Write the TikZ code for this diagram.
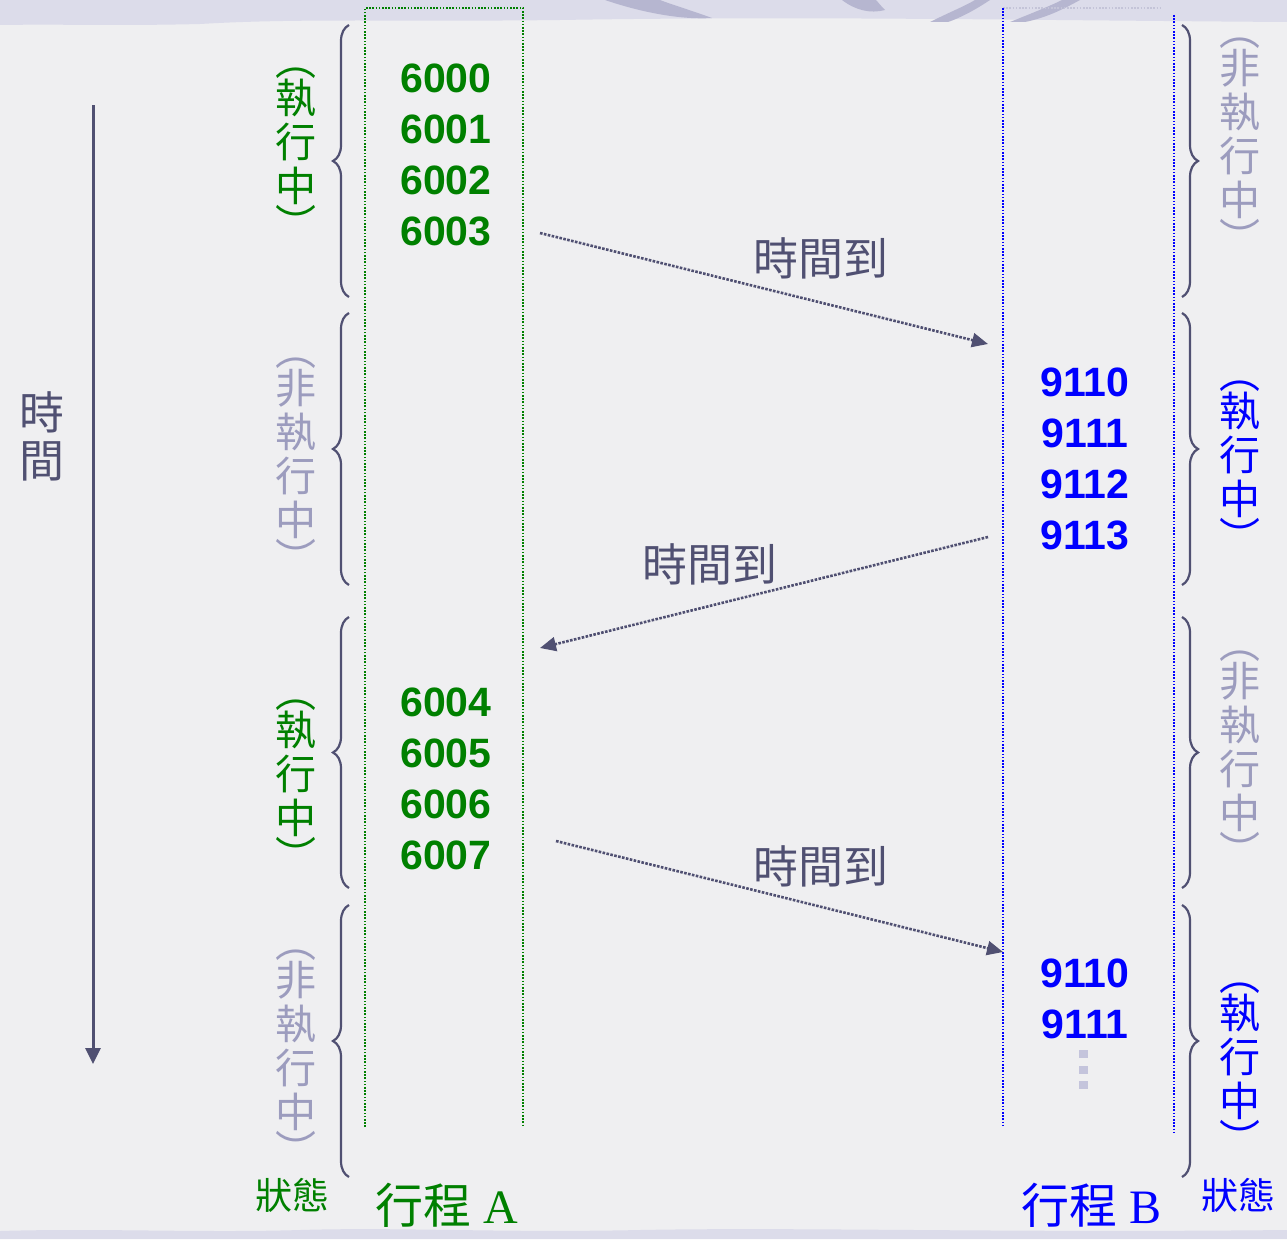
\documentclass[tikz,border=0pt]{standalone}
\usepackage{fontspec}
\setmainfont{Liberation Serif}
\newfontfamily\cjk{Noto Sans CJK TC}
\newfontfamily\numfont{Liberation Sans}
\usetikzlibrary{decorations.pathreplacing,arrows.meta}
\definecolor{bgc}{HTML}{EFEFF1}
\definecolor{band}{HTML}{DCDCEA}
\definecolor{swoosh}{HTML}{B6B6D0}
\definecolor{ink}{HTML}{505072}
\definecolor{pale}{HTML}{9C9CBE}
\definecolor{grn}{HTML}{008000}
\definecolor{blu}{HTML}{0000FF}
\definecolor{dotc}{HTML}{C4C4DC}
\tikzset{
  gnum/.style={font=\numfont\bfseries\fontsize{41}{41}\selectfont, text=grn, inner sep=0pt},
  bnum/.style={font=\numfont\bfseries\fontsize{41}{41}\selectfont, text=blu, inner sep=0pt},
  vlab/.style={font=\cjk\fontsize{41}{44}\selectfont, align=center, inner sep=0pt},
  cjklab/.style={font=\cjk\fontsize{45}{48}\selectfont, text=ink, inner sep=0pt, align=center},
  brc/.style={ink, line width=2.2pt, decorate, decoration={brace, amplitude=16pt}},
  colline/.style={line width=1.6pt, dash pattern=on 1.6pt off 1.6pt},
  tarrow/.style={ink, line width=2.6pt, dash pattern=on 2.6pt off 1.4pt, -{Triangle[length=16pt,width=14pt]}},
}
\newcommand{\vrun}[1]{︵\\[-6pt]#1\\[-6pt]︶}
\begin{document}
\begin{tikzpicture}[x=1pt,y=-1pt]
\useasboundingbox (0,0) rectangle (1287,1239);
% background
\fill[bgc] (0,0) rectangle (1287,1239);
\fill[band] (0,0) -- (1287,0) -- (1287,22) .. controls (1000,20) and (800,16) .. (560,20)
  .. controls (400,22) and (300,18) .. (200,24) .. controls (120,26) and (60,24) .. (0,25) -- cycle;
\fill[swoosh] (605,0) .. controls (640,12) and (680,20) .. (712,18) .. controls (690,10) and (670,4) .. (660,0) -- cycle;
\fill[swoosh] (842,0) .. controls (855,10) and (870,14) .. (885,10) .. controls (880,5) and (878,2) .. (876,0) -- cycle;
\fill[swoosh] (930,22) .. controls (950,12) and (965,6) .. (975,0) -- (990,0) .. controls (975,10) and (960,18) .. (948,22) -- cycle;
\fill[swoosh] (1010,22) .. controls (1030,14) and (1050,6) .. (1062,0) -- (1080,0) .. controls (1062,10) and (1045,18) .. (1025,22) -- cycle;
\fill[band] (0,1239) -- (0,1231) .. controls (100,1228) and (200,1233) .. (300,1230)
  .. controls (400,1227) and (500,1233) .. (640,1230) .. controls (800,1227) and (1000,1233) .. (1287,1230) -- (1287,1239) -- cycle;

% columns
\draw[grn, colline] (365,1127) -- (365,8) -- (523,8) -- (523,1127);
\draw[pale!60, colline] (1003,8) -- (1160,8);
\draw[blu, colline] (1003,8) -- (1003,1127);
\draw[blu, colline] (1174,15) -- (1174,1133);

% time axis
\draw[ink, line width=3pt, -{Triangle[length=16pt,width=15pt]}] (93,105) -- (93,1064);
\node[cjklab] (time) at (42,436) {時\\間};

% braces left
\draw[brc] (349,297) -- (349,25);
\draw[brc] (349,585) -- (349,313);
\draw[brc] (349,888) -- (349,617);
\draw[brc] (349,1177) -- (349,905);
% braces right
\draw[brc] (1182,25) -- (1182,297);
\draw[brc] (1182,313) -- (1182,585);
\draw[brc] (1182,617) -- (1182,888);
\draw[brc] (1182,905) -- (1182,1177);

% left state labels
\node[vlab, text=grn] (la1) at (296,154) {\vrun{執\\行\\中}};
\node[vlab, text=pale] (la2) at (296,466) {\vrun{非\\執\\行\\中}};
\node[vlab, text=grn] (la3) at (296,786) {\vrun{執\\行\\中}};
\node[vlab, text=pale] (la4) at (296,1058) {\vrun{非\\執\\行\\中}};
% right state labels
\node[vlab, text=pale] (lb1) at (1240,146) {\vrun{非\\執\\行\\中}};
\node[vlab, text=blu] (lb2) at (1240,467) {\vrun{執\\行\\中}};
\node[vlab, text=pale] (lb3) at (1240,759) {\vrun{非\\執\\行\\中}};
\node[vlab, text=blu] (lb4) at (1240,1069) {\vrun{執\\行\\中}};

% process A numbers
\node[gnum] (a0) at (446,78) {6000};
\node[gnum] (a1) at (446,129) {6001};
\node[gnum] (a2) at (446,180) {6002};
\node[gnum] (a3) at (446,231) {6003};
\node[gnum] (a4) at (446,702) {6004};
\node[gnum] (a5) at (446,753) {6005};
\node[gnum] (a6) at (446,804) {6006};
\node[gnum] (a7) at (446,855) {6007};
% process B numbers
\node[bnum] (b0) at (1085,382) {9110};
\node[bnum] (b1) at (1085,433) {9111};
\node[bnum] (b2) at (1085,484) {9112};
\node[bnum] (b3) at (1085,535) {9113};
\node[bnum] (b4) at (1085,973) {9110};
\node[bnum] (b5) at (1085,1024) {9111};
\fill[dotc] (1079,1050) rectangle (1088,1058);
\fill[dotc] (1079,1066) rectangle (1088,1074);
\fill[dotc] (1079,1081) rectangle (1088,1089);

% switch arrows
\coordinate (s1) at (540,233);
\coordinate (e1) at (988,344);
\coordinate (s2) at (988,537);
\coordinate (e2) at (540,648);
\coordinate (s3) at (556,841);
\coordinate (e3) at (1003,952);
\draw[tarrow] (s1) -- (e1);
\draw[tarrow] (s2) -- (e2);
\draw[tarrow] (s3) -- (e3);
\node[cjklab] (t1) at (821,258) {時間到};
\node[cjklab] (t2) at (710,564) {時間到};
\node[cjklab] (t3) at (821,866) {時間到};

% bottom labels
\node[font=\cjk\fontsize{37}{40}\selectfont, text=grn, inner sep=0pt] (stA) at (292,1195) {狀態};
\node[font=\fontsize{48}{50}\selectfont, text=grn, inner sep=0pt] (pA) at (447,1205) {{\cjk 行程} A};
\node[font=\fontsize{48}{50}\selectfont, text=blu, inner sep=0pt] (pB) at (1091,1205) {{\cjk 行程} B};
\node[font=\cjk\fontsize{37}{40}\selectfont, text=blu, inner sep=0pt] (stB) at (1238,1195) {狀態};
\end{tikzpicture}
\end{document}
